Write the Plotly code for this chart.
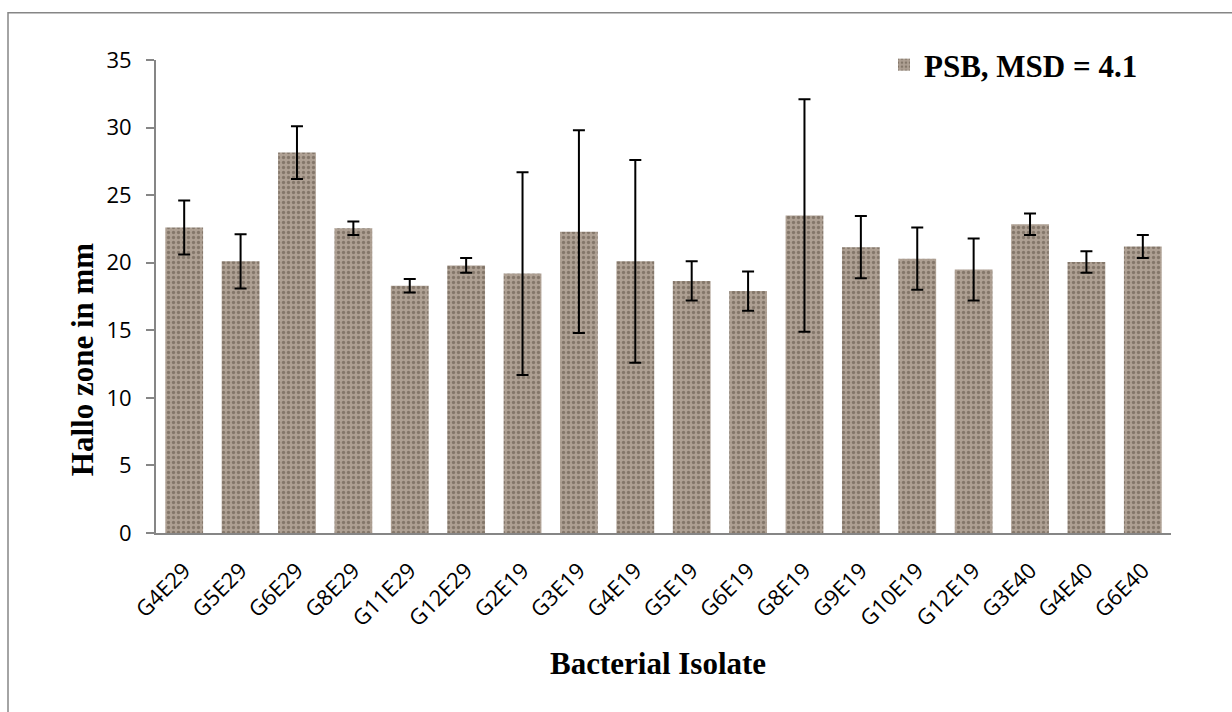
import plotly.graph_objects as go

isolates = ["G4E29", "G5E29", "G6E29", "G8E29", "G11E29", "G12E29", "G2E19", "G3E19",
            "G4E19", "G5E19", "G6E19", "G8E19", "G9E19", "G10E19", "G12E19", "G3E40",
            "G4E40", "G6E40"]
hallo_zone = [22.6, 20.1, 28.15, 22.55, 18.3, 19.8, 19.2, 22.3, 20.1, 18.65, 17.9, 23.5,
              21.15, 20.3, 19.5, 22.85, 20.05, 21.2]
std_err = [2.0, 2.0, 1.95, 0.5, 0.5, 0.55, 7.5, 7.5, 7.5, 1.45, 1.45, 8.6, 2.3, 2.3, 2.3,
           0.8, 0.8, 0.85]
y_ticks = [0, 5, 10, 15, 20, 25, 30, 35]

W, H = 1232, 712
L, R, T, B = 156, 61, 60, 179
pw, ph = W - L - R, H - T - B

fig = go.Figure()
fig.add_trace(go.Bar(
    x=isolates, y=hallo_zone, name="PSB, MSD = 4.1",
    marker=dict(color="#a89a8c", line=dict(width=0),
                pattern=dict(shape=".", fgcolor="#5a4d41", bgcolor="#aea093",
                             size=5, solidity=0.35)),
    error_y=dict(type="data", array=std_err, visible=True, color="black",
                 thickness=2, width=6),
))

fig.update_layout(
    width=W, height=H,
    margin=dict(l=L, r=R, t=T, b=B, pad=0),
    paper_bgcolor="white", plot_bgcolor="white",
    bargap=0.33,
    showlegend=True,
    legend=dict(x=(884 - L) / pw, y=1 + (T - 38) / ph, xanchor="left", yanchor="top",
                bgcolor="rgba(0,0,0,0)",
                font=dict(family="Liberation Serif", size=31, color="black",
                          weight="bold"),
                itemwidth=30),
    font=dict(family="Open Sans", color="black"),
    xaxis=dict(showline=True, linecolor="#868686", linewidth=2, ticks="",
               tickangle=-45, tickfont=dict(family="Open Sans", size=22, color="black"),
               showgrid=False, zeroline=False, ticklabelstandoff=14),
    yaxis=dict(range=[0, 35], tickvals=y_ticks, showline=True, linecolor="#868686",
               linewidth=2, ticks="outside", ticklen=8, tickcolor="#868686", tickwidth=2,
               tickfont=dict(family="Open Sans", size=22, color="black"),
               showgrid=False, zeroline=False, ticklabelstandoff=10),
    annotations=[
        dict(text="<b>Hallo zone in mm</b>", textangle=-90, xref="paper", yref="paper",
             x=(63 - L) / pw, y=(533.3 - 360) / ph, showarrow=False,
             font=dict(family="Liberation Serif", size=31, color="black")),
        dict(text="<b>Bacterial Isolate</b>", xref="paper", yref="paper",
             x=(658 - L) / pw, y=(533.3 - 683) / ph, showarrow=False,
             font=dict(family="Liberation Serif", size=31, color="black")),
    ],
    shapes=[dict(type="rect", xref="paper", yref="paper",
                 x0=(8 - L) / pw, x1=2, y0=-2, y1=1 + (T - 12.7) / ph,
                 line=dict(color="#868686", width=1.5), fillcolor="rgba(0,0,0,0)",
                 layer="below"),
            dict(type="line", xref="paper", yref="paper",
                 x0=(147.7 - L) / pw, x1=0, y0=0, y1=0,
                 line=dict(color="#868686", width=2))],
)

fig.write_html("out.html")
